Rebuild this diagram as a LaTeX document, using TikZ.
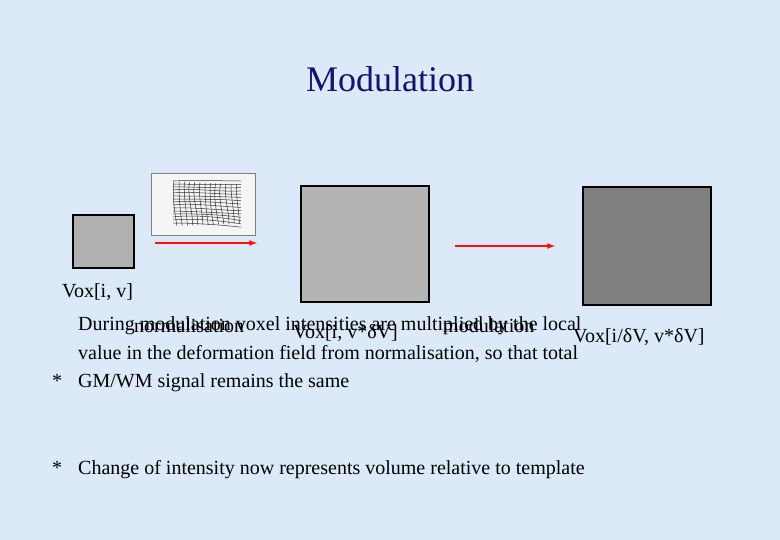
\documentclass[tikz,border=0pt]{standalone}
\usepackage{fontspec}
\setmainfont{Liberation Serif}
\begin{document}
\begin{tikzpicture}[x=1pt,y=-1pt,
  lab/.style={anchor=base west,inner sep=0pt,font=\fontsize{20}{24}\selectfont},
  body/.style={anchor=base west,inner sep=0pt,font=\fontsize{20}{28.5}\selectfont,align=left},
  vbox/.style={draw=black,line width=2pt},
  redarrow/.style={draw=red!85!orange,line width=1.6pt,-latex}]
\fill[fill={rgb,255:red,220;green,233;blue,248}] (0,0) rectangle (780,540);
\useasboundingbox (0,0) rectangle (780,540);
\node[anchor=base,inner sep=0pt,font=\fontsize{36}{40}\selectfont,text={rgb,255:red,20;green,20;blue,110}] (title) at (390,92) {Modulation};
\node[vbox,fill={rgb,255:red,176;green,176;blue,176},minimum width=61,minimum height=53,inner sep=0pt] (b1) at (103.5,241.5) {};
\node[vbox,fill={rgb,255:red,180;green,180;blue,180},minimum width=128,minimum height=116,inner sep=0pt] (b2) at (365,244) {};
\node[vbox,fill={rgb,255:red,128;green,128;blue,128},minimum width=128,minimum height=118,inner sep=0pt] (b3) at (647,246) {};
\node[draw=gray,fill={rgb,255:red,245;green,245;blue,245},minimum width=104,minimum height=62,inner sep=0pt] (img) at (203,204) {};
\begin{scope}[line width=0.5pt,black!80]
\foreach \i in {0,...,12}{
  \draw ({174+\i*5.2},{181+0.3*\i}) .. controls ({172+\i*5.2+1.5*sin(\i*70)},195) and ({176+\i*5.2-1.5*cos(\i*50)},212) .. ({177+\i*5.2},{226-0.2*\i});}
\foreach \j in {0,...,14}{
  \draw (173,{181+\j*3}) .. controls (190,{180+\j*3+1.5*sin(\j*80)}) and (220,{182+\j*3-1.2*cos(\j*60)}) .. (241,{181+\j*3+0.3*\j});}
\end{scope}
\coordinate (a1s) at (155,243); \coordinate (a1e) at (257,243);
\coordinate (a2s) at (455,246); \coordinate (a2e) at (555,246);
\draw[redarrow] (a1s) -- (a1e);
\draw[redarrow] (a2s) -- (a2e);
\node[lab] (l1) at (62,298) {Vox[i, v]};
\node[lab] (l2) at (134,333) {normalisation};
\node[lab] (l3) at (293,339) {Vox[i, v*δV]};
\node[lab] (l4) at (443,333) {modulation};
\node[lab] (l5) at (573,343) {Vox[i/δV, v*δV]};
\node[body] (s1) at (52,388) {*};
\node[body] (t1) at (78,388) {During modulation voxel intensities are multiplied by the local\\value in the deformation field from normalisation, so that total\\GM/WM signal remains the same};
\node[body] (s2) at (52,474) {*};
\node[body] (t2) at (78,474) {Change of intensity now represents volume relative to template};
\end{tikzpicture}
\end{document}
